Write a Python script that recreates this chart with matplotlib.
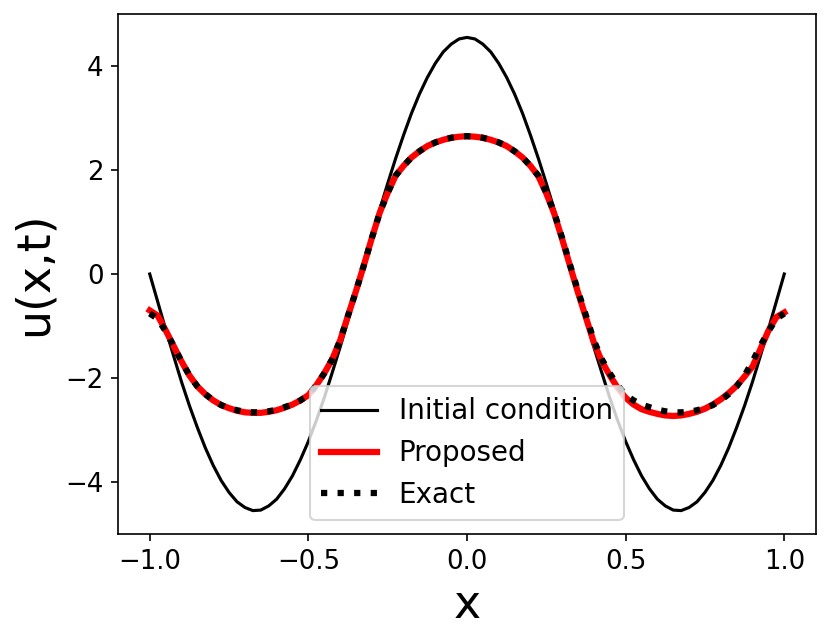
import numpy as np
import matplotlib
matplotlib.use("Agg")
import matplotlib.pyplot as plt

# x grid (step 0.025 from -1 to 1)
x_vals = [round(-1.0 + 0.025 * i, 3) for i in range(81)]

# Initial condition values (left half to centre, symmetric)
init_half = [0.00, -0.53, -1.06, -1.57, -2.07, -2.53, -2.95, -3.34, -3.68, -3.97,
             -4.20, -4.38, -4.49, -4.55, -4.54, -4.46, -4.33, -4.13, -3.88, -3.57,
             -3.22, -2.82, -2.38, -1.90, -1.41, -0.89, -0.36, 0.18, 0.71, 1.24,
             1.74, 2.22, 2.67, 3.09, 3.46, 3.78, 4.05, 4.27, 4.42, 4.52, 4.55]
initial = init_half + init_half[-2::-1]

# Exact solution (left half to centre, symmetric)
exact_half = [-0.76, -0.86, -1.10, -1.38, -1.68, -1.95, -2.16, -2.31, -2.43, -2.52,
              -2.58, -2.62, -2.65, -2.66, -2.66, -2.64, -2.61, -2.56, -2.51, -2.43,
              -2.33, -2.14, -1.91, -1.64, -1.28, -0.80, -0.33, 0.17, 0.69, 1.18,
              1.56, 1.89, 2.08, 2.24, 2.36, 2.46, 2.53, 2.58, 2.62, 2.64, 2.65]
exact = exact_half + exact_half[-2::-1]

# Proposed solution
proposed = [-0.70, -0.80, -1.08, -1.38, -1.68, -1.95, -2.16, -2.31, -2.43, -2.52,
            -2.58, -2.63, -2.66, -2.67, -2.67, -2.65, -2.62, -2.57, -2.51, -2.43,
            -2.33, -2.14, -1.91, -1.64, -1.28, -0.80, -0.33, 0.17, 0.69, 1.18,
            1.56, 1.89, 2.08, 2.24, 2.36, 2.46, 2.53, 2.58, 2.62, 2.64, 2.65,
            2.64, 2.62, 2.58, 2.53, 2.46, 2.36, 2.24, 2.08, 1.88, 1.55,
            1.16, 0.67, 0.15, -0.36, -0.84, -1.32, -1.68, -1.95, -2.19, -2.38,
            -2.51, -2.60, -2.65, -2.69, -2.72, -2.73, -2.72, -2.69, -2.65, -2.59,
            -2.51, -2.41, -2.29, -2.15, -1.97, -1.78, -1.44, -1.09, -0.83, -0.74]

fig = plt.figure(figsize=(831 / 150, 639 / 150), dpi=150)
ax = fig.add_axes([118 / 831, 1 - 534 / 639, (816 - 118) / 831, (534 - 14) / 639])

ax.plot(x_vals, initial, color="black", lw=1.5, label="Initial condition")
ax.plot(x_vals, proposed, color="red", lw=3, label="Proposed")
ax.plot(x_vals, exact, color="black", lw=3, ls=":", label="Exact")

ax.set_xlim(-1.1, 1.1)
ax.set_ylim(-5.0, 5.0)
ax.set_xticks([-1.0, -0.5, 0.0, 0.5, 1.0])
ax.set_yticks([-4, -2, 0, 2, 4])
ax.tick_params(labelsize=12.5)
ax.set_xlabel("x", fontsize=22)
ax.set_ylabel("u(x,t)", fontsize=22)
ax.legend(loc="lower center", fontsize=13.3)

fig.savefig("out.png", dpi=150)
